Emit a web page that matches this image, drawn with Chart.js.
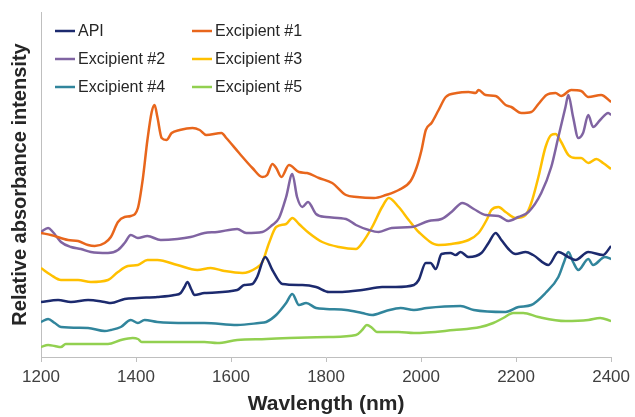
<!DOCTYPE html>
<html>
<head>
<meta charset="utf-8">
<script src="https://cdn.jsdelivr.net/npm/chart.js@4"></script>
<style>
  html, body { margin: 0; padding: 0; background: #ffffff; }
  #spectraChart { display: block; }
</style>
</head>
<body>
<canvas id="spectraChart" width="635" height="417"></canvas>
<script>
// wavelengths (nm) and relative absorbance (arbitrary units)
const seriesLabels = ['API', 'Excipient #1', 'Excipient #2', 'Excipient #3', 'Excipient #4', 'Excipient #5'];
const xTicks = [1200, 1400, 1600, 1800, 2000, 2200, 2400];

const apiNm  = [1200,1236,1263,1299,1334,1347,1376,1404,1445,1481,1494,1502,1508,1517,1523,1544,1613,1628,1645,1655,1672,1687,1708,1750,1779,1806,1834,1876,1918,1947,1985,1995,2010,2020,2031,2043,2062,2073,2083,2100,2127,2142,2157,2169,2184,2199,2220,2236,2268,2289,2310,2325,2352,2383,2400];
const apiAbs = [55,57,55,57,55,54,58,59,60,62,64,70,75,67,62,64,67,72,73,80,100,87,73,72,70,65,65,67,70,70,72,77,94,94,88,103,104,102,105,100,104,114,124,117,108,103,105,102,92,105,100,97,105,102,111];

const exc1Nm  = [1200,1221,1257,1278,1299,1313,1334,1347,1362,1376,1389,1404,1414,1424,1433,1439,1445,1454,1464,1475,1492,1519,1534,1548,1580,1590,1617,1645,1666,1676,1687,1695,1706,1722,1743,1760,1785,1813,1842,1865,1901,1926,1953,1978,1991,2001,2010,2022,2037,2052,2075,2100,2115,2121,2136,2157,2178,2190,2211,2232,2247,2264,2283,2295,2316,2337,2352,2379,2400];
const exc1Abs = [124,122,117,116,112,111,114,120,135,140,141,149,177,217,245,252,240,219,217,224,227,229,227,222,224,219,204,189,180,182,193,189,180,192,185,184,179,174,162,160,159,162,167,176,190,207,227,234,247,260,264,265,264,267,262,261,252,250,244,245,253,262,264,261,267,266,260,262,255];

const exc2Nm  = [1200,1215,1225,1242,1263,1284,1305,1341,1362,1376,1389,1404,1424,1452,1487,1515,1544,1571,1613,1632,1666,1687,1701,1716,1729,1739,1750,1762,1779,1800,1842,1863,1890,1911,1938,1980,2016,2043,2064,2087,2111,2136,2163,2184,2205,2226,2253,2274,2289,2304,2310,2320,2331,2341,2352,2362,2377,2394,2400];
const exc2Abs = [125,129,125,115,110,108,105,104,107,114,122,119,121,117,118,120,124,125,128,124,125,132,139,160,183,160,150,155,143,140,138,132,127,125,129,130,136,138,145,154,148,142,141,136,140,145,164,190,220,250,262,240,219,224,242,230,237,244,242];

const exc3Nm  = [1200,1221,1242,1278,1305,1341,1362,1383,1404,1424,1445,1487,1529,1557,1586,1624,1653,1666,1680,1695,1716,1729,1743,1764,1792,1827,1863,1876,1897,1918,1932,1953,1974,1995,2037,2064,2100,2121,2138,2148,2163,2178,2199,2220,2232,2247,2262,2274,2283,2295,2310,2325,2337,2352,2369,2383,2400];
const exc3Abs = [89,82,77,77,75,77,85,91,92,97,97,92,87,89,86,84,89,95,114,130,133,139,133,124,115,110,108,114,130,150,159,150,137,125,112,113,117,124,137,147,150,145,139,142,154,180,210,222,223,215,202,199,199,194,198,194,188];

const exc4Nm  = [1200,1215,1229,1242,1299,1334,1347,1368,1389,1404,1418,1445,1508,1544,1613,1659,1674,1695,1716,1729,1743,1758,1779,1800,1842,1876,1897,1926,1957,1985,2012,2083,2111,2178,2205,2232,2262,2289,2301,2310,2320,2331,2352,2362,2387,2400];
const exc4Abs = [35,38,34,30,29,26,27,30,37,34,37,35,34,34,32,34,35,42,54,63,52,54,49,48,47,44,42,46,49,47,49,51,47,45,50,52,64,80,95,105,95,87,98,92,100,98];

const exc5Nm  = [1200,1215,1229,1242,1252,1282,1341,1368,1393,1404,1412,1445,1544,1571,1613,1674,1722,1806,1863,1876,1886,1897,1907,1953,1985,2069,2125,2152,2173,2194,2215,2247,2304,2352,2377,2400];
const exc5Abs = [10,12,11,10,13,13,13,17,19,18,15,15,15,14,17,18,19,20,22,27,32,29,25,25,24,27,30,34,39,44,44,40,36,37,39,36];

const seriesNm  = [apiNm, exc1Nm, exc2Nm, exc3Nm, exc4Nm, exc5Nm];
const seriesAbs = [apiAbs, exc1Abs, exc2Abs, exc3Abs, exc4Abs, exc5Abs];
const seriesColors = ['#1c2a6e', '#e8661c', '#8064a2', '#ffc000', '#31859c', '#92d050'];

document.addEventListener('DOMContentLoaded', function() {
    const ctx = document.getElementById('spectraChart');

    const datasets = seriesLabels.map((label, i) => ({
        label: label,
        data: seriesNm[i].map((nm, j) => ({ x: nm, y: seriesAbs[i][j] })),
        borderColor: seriesColors[i],
        backgroundColor: seriesColors[i],
        borderWidth: 2.5,
        pointRadius: 0,
        cubicInterpolationMode: 'monotone',
        fill: false
    }));

    // two-column legend sitting inside the plot, top-left
    const insetLegend = {
        id: 'insetLegend',
        afterDraw(chart) {
            const c = chart.ctx;
            const area = chart.chartArea;
            c.save();
            c.font = "16px 'Liberation Sans', Arial, sans-serif";
            c.textBaseline = 'middle';
            chart.data.datasets.forEach((ds, i) => {
                const col = i % 2;
                const row = Math.floor(i / 2);
                const x = area.left + 14 + col * 137;
                const y = area.top + 19 + row * 28;
                c.strokeStyle = ds.borderColor;
                c.lineWidth = 2.5;
                c.beginPath();
                c.moveTo(x, y);
                c.lineTo(x + 20, y);
                c.stroke();
                c.fillStyle = '#262626';
                c.fillText(ds.label, x + 23, y + 1);
            });
            c.restore();
        }
    };

    new Chart(ctx, {
        type: 'line',
        data: { datasets: datasets },
        options: {
            responsive: false,
            animation: false,
            layout: { padding: { top: 12, right: 22, left: 0, bottom: 0 } },
            plugins: {
                legend: { display: false },
                tooltip: { enabled: false }
            },
            scales: {
                x: {
                    type: 'linear',
                    min: 1200,
                    max: 2400,
                    afterBuildTicks: scale => { scale.ticks = xTicks.map(v => ({ value: v })); },
                    afterFit: scale => { scale.height = 60; },
                    grid: { display: true, drawOnChartArea: false, drawTicks: true, tickLength: 5, color: '#bfbfbf' },
                    border: { display: true, color: '#bfbfbf', width: 1 },
                    ticks: {
                        padding: 5,
                        color: '#404040',
                        font: { family: "'Liberation Sans', Arial, sans-serif", size: 17 },
                        maxRotation: 0,
                        callback: value => String(value)
                    },
                    title: {
                        display: true,
                        text: 'Wavlength (nm)',
                        color: '#262626',
                        font: { family: "'Liberation Sans', Arial, sans-serif", size: 21, weight: 'bold' },
                        padding: { top: 0, bottom: 0 }
                    }
                },
                y: {
                    min: 0,
                    max: 345,
                    afterFit: scale => { scale.width = 41; },
                    grid: { display: false },
                    border: { display: true, color: '#bfbfbf', width: 1 },
                    ticks: { display: false },
                    title: {
                        display: true,
                        text: 'Relative absorbance intensity',
                        color: '#262626',
                        font: { family: "'Liberation Sans', Arial, sans-serif", size: 20, weight: 'bold' },
                        padding: { top: 8, bottom: 0 }
                    }
                }
            }
        },
        plugins: [insetLegend]
    });
});
</script>
</body>
</html>
